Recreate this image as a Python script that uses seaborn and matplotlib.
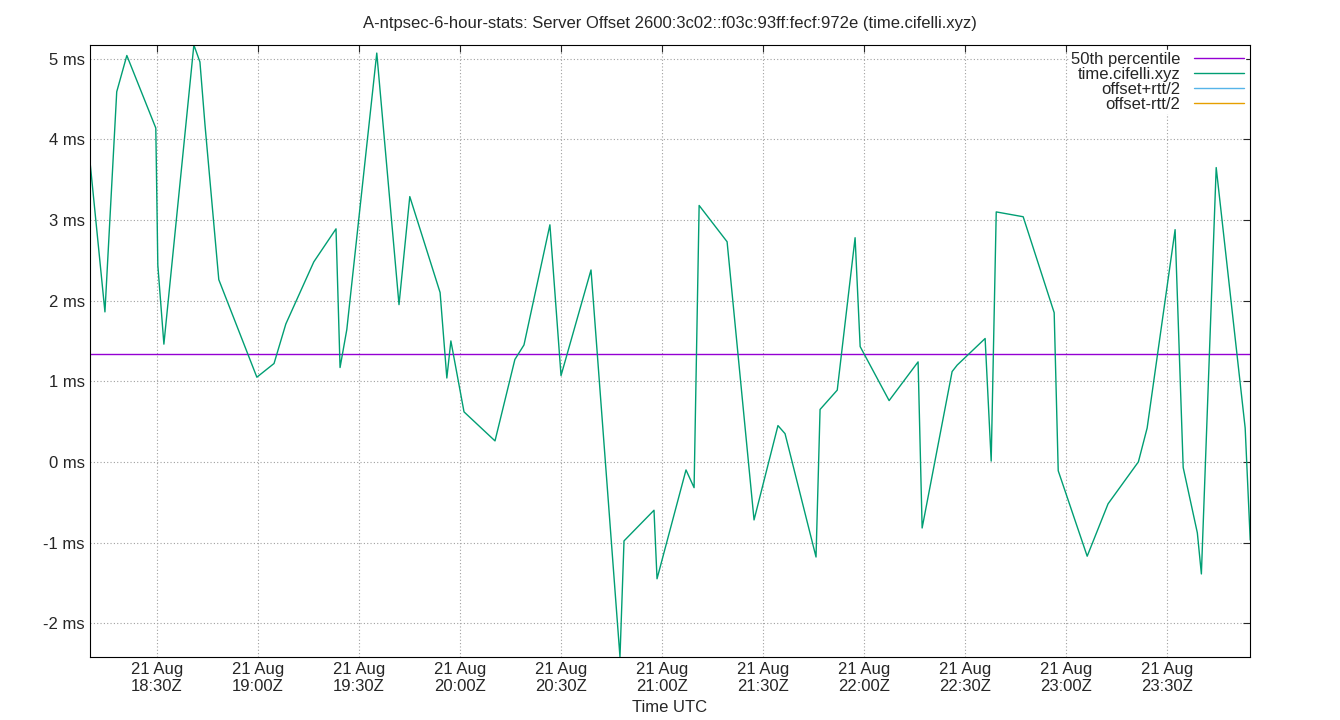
import matplotlib
matplotlib.use("Agg")
import matplotlib.pyplot as plt
import seaborn as sns
import pandas as pd

sns.set_style("white")
plt.rcParams['font.family'] = ['Liberation Sans', 'DejaVu Sans']

# minutes after 2024-08-21 18:00 UTC
minutes = [10.1,14.6,18.1,21.1,29.7,30.3,32.1,41.0,42.8,44.3,48.4,59.7,64.8,68.3,76.6,83.2,84.4,86.4,
           95.3,101.9,105.1,114.1,116.1,117.3,121.2,130.4,136.3,139,146.7,150,158.9,167.5,168.7,177.6,
           178.5,187.1,189.5,191,199.3,207.3,214.4,216.5,225.7,226.9,232,237.3,238.8,247.4,256,257.2,
           266.1,267.6,275.9,277.7,279.2,287.2,296.4,297.6,306.2,312.4,321.4,324,332.3,334.7,338.9,
           340.1,344.5,353.1,354.6]
offset_ms = [3.75,1.86,4.59,5.04,4.14,2.44,1.46,5.17,4.96,4.18,2.26,1.05,1.22,1.71,2.48,2.89,1.17,1.64,
             5.07,1.95,3.29,2.10,1.04,1.50,0.62,0.26,1.27,1.45,2.94,1.07,2.38,-2.42,-0.98,-0.60,
             -1.45,-0.10,-0.32,3.18,2.73,-0.72,0.45,0.35,-1.18,0.65,0.89,2.78,1.43,0.76,1.24,-0.82,
             1.12,1.20,1.53,0.01,3.10,3.04,1.85,-0.11,-1.17,-0.52,0.00,0.42,2.88,-0.07,-0.88,
             -1.39,3.65,0.42,-0.97]
median_ms = 1.34

base = pd.Timestamp("2024-08-21 18:00")
df = pd.DataFrame({"t": [base + pd.Timedelta(minutes=m) for m in minutes], "v": offset_ms})

fig = plt.figure(figsize=(13.4, 7.2), dpi=100)
ax = fig.add_axes([0.067, 0.0875, 0.866, 0.85])
xmin = base + pd.Timedelta(minutes=10.1)
xmax = base + pd.Timedelta(minutes=354.6)
ax.plot([xmin, xmax], [median_ms, median_ms], color="#9400d3", lw=1, label="50th percentile")
sns.lineplot(data=df, x="t", y="v", ax=ax, color="#009e73", lw=1, label="time.cifelli.xyz")
ax.plot([], [], color="#56b4e9", lw=1, label="offset+rtt/2")
ax.plot([], [], color="#e69f00", lw=1, label="offset-rtt/2")

ax.set_xlim(xmin, xmax)
ax.set_ylim(-2.42, 5.17)
ax.set_yticks(range(-2, 6))
ax.set_yticklabels([f"{v} ms" for v in range(-2, 6)])
ticks = [base + pd.Timedelta(minutes=30 * k) for k in range(1, 12)]
ax.set_xticks(ticks)
ax.set_xticklabels([f"21 Aug\n{t.strftime('%H:%M')}Z" for t in ticks])
ax.tick_params(labelsize=12, direction="in", length=5, top=True, right=True)
ax.grid(True, color="#a0a0a0", linestyle=(0, (1, 2)), lw=0.8)
for s in ax.spines.values():
    s.set_color("black"); s.set_linewidth(0.8)
ax.set_xlabel("Time UTC", fontsize=12)
ax.set_ylabel("")
ax.set_title("A-ntpsec-6-hour-stats: Server Offset 2600:3c02::f03c:93ff:fecf:972e (time.cifelli.xyz)",
             fontsize=12, pad=12)
ax.legend(loc="upper right", frameon=True, markerfirst=False, fontsize=12,
          handlelength=3, borderpad=0.1, borderaxespad=0.3, labelspacing=0.0,
          framealpha=1, edgecolor="white")
fig.savefig("out.png", dpi=100)
